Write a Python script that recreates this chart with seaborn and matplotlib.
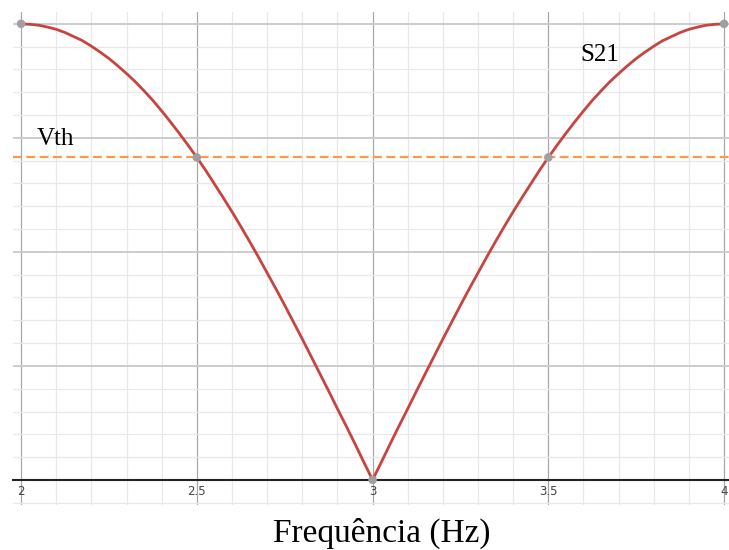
import matplotlib
matplotlib.use("Agg")
import matplotlib.pyplot as plt
import seaborn as sns
import pandas as pd
from matplotlib.ticker import MultipleLocator

# S21 response sampled across the band
freq = [2.000, 2.025, 2.050, 2.075, 2.100, 2.125, 2.150, 2.175, 2.200, 2.225,
        2.250, 2.275, 2.300, 2.325, 2.350, 2.375, 2.400, 2.425, 2.450, 2.475,
        2.500, 2.525, 2.550, 2.575, 2.600, 2.625, 2.650, 2.675, 2.700, 2.725,
        2.750, 2.775, 2.800, 2.825, 2.850, 2.875, 2.900, 2.925, 2.950, 2.975,
        3.000, 3.025, 3.050, 3.075, 3.100, 3.125, 3.150, 3.175, 3.200, 3.225,
        3.250, 3.275, 3.300, 3.325, 3.350, 3.375, 3.400, 3.425, 3.450, 3.475,
        3.500, 3.525, 3.550, 3.575, 3.600, 3.625, 3.650, 3.675, 3.700, 3.725,
        3.750, 3.775, 3.800, 3.825, 3.850, 3.875, 3.900, 3.925, 3.950, 3.975,
        4.000]
s21 = [1.000, 0.999, 0.997, 0.993, 0.988, 0.981, 0.972, 0.963, 0.951, 0.938,
       0.924, 0.908, 0.891, 0.873, 0.853, 0.832, 0.809, 0.785, 0.760, 0.734,
       0.707, 0.679, 0.649, 0.619, 0.588, 0.556, 0.523, 0.489, 0.454, 0.419,
       0.383, 0.346, 0.309, 0.271, 0.233, 0.195, 0.156, 0.118, 0.079, 0.039,
       0.000, 0.039, 0.079, 0.118, 0.156, 0.195, 0.233, 0.271, 0.309, 0.346,
       0.383, 0.419, 0.454, 0.489, 0.523, 0.556, 0.588, 0.619, 0.649, 0.679,
       0.707, 0.734, 0.760, 0.785, 0.809, 0.832, 0.853, 0.873, 0.891, 0.908,
       0.924, 0.938, 0.951, 0.963, 0.972, 0.981, 0.988, 0.993, 0.997, 0.999,
       1.000]

# threshold level and marked points
vth = 0.707
key_freq = [2.0, 2.5, 3.0, 3.5, 4.0]
key_s21 = [1.000, 0.707, 0.000, 0.707, 1.000]
tick_labels = ["2", "2.5", "3", "3.5", "4"]

sns.set_theme(style="white")

fig = plt.figure(figsize=(7.29, 5.5), dpi=100)
ax = fig.add_axes([13 / 729, 45 / 550, 716 / 729, 493 / 550])

df = pd.DataFrame({"freq": freq, "s21": s21})
keys = pd.DataFrame({"freq": key_freq, "s21": key_s21})

# grid
ax.xaxis.set_major_locator(MultipleLocator(0.5))
ax.xaxis.set_minor_locator(MultipleLocator(0.1))
ax.yaxis.set_major_locator(MultipleLocator(0.25))
ax.yaxis.set_minor_locator(MultipleLocator(0.05))
ax.grid(which="minor", color="#e8e8e8", linewidth=0.9)
ax.grid(which="major", axis="y", color="#c8c8c8", linewidth=1.3)
ax.grid(which="major", axis="x", color="#a8a8a8", linewidth=0.9)
ax.set_axisbelow(True)

ax.axhline(vth, color="#fa9a4a", linewidth=1.6, dashes=(4, 2), zorder=2)
sns.lineplot(data=df, x="freq", y="s21", ax=ax, color="#c74440",
             linewidth=2.0, zorder=3)
sns.scatterplot(data=keys, x="freq", y="s21", ax=ax, color="#a0a0a0",
                s=38, edgecolor="none", zorder=4)

ax.set_xlim(1.977, 4.014)
ax.set_ylim(-0.055, 1.026)

for side in ["top", "right", "left"]:
    ax.spines[side].set_visible(False)
ax.spines["bottom"].set_position(("data", 0))
ax.spines["bottom"].set_color("#222222")
ax.spines["bottom"].set_linewidth(1.5)
ax.spines["bottom"].set_zorder(2.5)

ax.set_xticks(key_freq)
ax.set_xticklabels(tick_labels)
ax.tick_params(axis="x", which="both", length=0, pad=4, labelsize=8.5,
               labelcolor="#444444")
ax.set_yticks([i * 0.25 for i in range(5)])
ax.set_yticklabels([])
ax.tick_params(axis="y", which="both", length=0)
ax.set_xlabel("")
ax.set_ylabel("")

serif = ["Liberation Serif", "DejaVu Serif"]
ax.text(2.045, vth + 0.017, "Vth", family=serif, fontsize=18,
        color="black", ha="left", va="bottom")
ax.text(3.59, 0.908, "S21", family=serif, fontsize=18,
        color="black", ha="left", va="bottom")
fig.text(382 / 729, 1 - 533 / 550, "Frequência (Hz)", family=serif,
         fontsize=24, color="black", ha="center", va="center")

fig.savefig("out.png", dpi=100)
